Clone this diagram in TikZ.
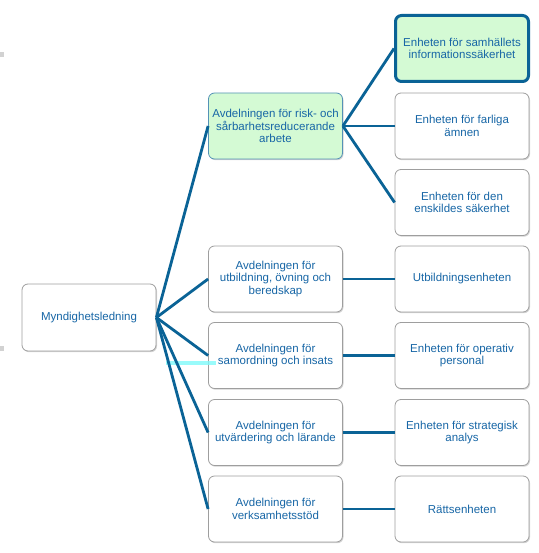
\documentclass[tikz,border=0pt]{standalone}
\usepackage{fontspec}
\setmainfont{Liberation Sans}
\usetikzlibrary{shadows}
\definecolor{LineClr}{rgb}{0.04,0.39,0.59}
\definecolor{TextClr}{rgb}{0.09,0.40,0.65}
\definecolor{BoxClr}{rgb}{0.62,0.62,0.62}
\definecolor{MarkClr}{rgb}{0.83,0.98,0.83}
\definecolor{GlowClr}{rgb}{0.50,0.98,0.98}

\tikzset{
  unitbox/.style={draw=BoxClr,line width=0.8pt,fill=white,rounded corners=6pt,
    minimum width=134pt,minimum height=66pt,inner sep=2pt,align=center,
    text=TextClr,font=\fontsize{11.5}{12.5}\selectfont,
    drop shadow={opacity=0.35,shadow xshift=1pt,shadow yshift=-1.2pt}},
  greenbox/.style={unitbox,fill=MarkClr,draw=LineClr!70},
  chosenbox/.style={greenbox,draw=LineClr,line width=3pt},
  branch/.style={draw=LineClr,line width=2.8pt}
}

\begin{document}
\begin{tikzpicture}[x=1pt,y=-1pt]
\useasboundingbox (0,0) rectangle (538,553);

% small marks at the left edge
\fill[gray!35] (0,52) rectangle (4,57);
\fill[gray!35] (0,346) rectangle (4,351);

\node[unitbox,minimum height=67pt] (root) at (89,317.5) {Myndighetsledning};

\node[greenbox] (a1) at (275.5,126) {Avdelningen för risk- och\\sårbarhetsreducerande\\arbete};
\node[unitbox] (a2) at (275.5,279) {Avdelningen för\\utbildning, övning och\\beredskap};
\node[unitbox] (a3) at (275.5,355.5) {Avdelningen för\\samordning och insats};
\node[unitbox] (a4) at (275.5,432.5) {Avdelningen för\\utvärdering och lärande};
\node[unitbox] (a5) at (275.5,509) {Avdelningen för\\verksamhetsstöd};

\node[chosenbox,minimum width=133pt,minimum height=66pt] (e1) at (462,48.5) {Enheten för samhällets\\informationssäkerhet};
\node[unitbox] (e2) at (462,126) {Enheten för farliga\\ämnen};
\node[unitbox] (e3) at (462,202.5) {Enheten för den\\enskildes säkerhet};
\node[unitbox] (e4) at (462,279) {Utbildningsenheten};
\node[unitbox] (e5) at (462,355.5) {Enheten för operativ\\personal};
\node[unitbox] (e6) at (462,432.5) {Enheten för strategisk\\analys};
\node[unitbox] (e7) at (462,509) {Rättsenheten};

% stray highlight, under the lines
\fill[GlowClr,opacity=0.8] (166,361) rectangle (216,365);

\foreach \n in {a1,a2,a3,a4,a5}
  \draw[branch] (root.east) -- (\n.west);
\foreach \n in {e1,e2,e3}
  \draw[branch] (a1.east) -- (\n.west);
\draw[branch] (a2.east) -- (e4.west);
\draw[branch] (a3.east) -- (e5.west);
\draw[branch] (a4.east) -- (e6.west);
\draw[branch] (a5.east) -- (e7.west);

\end{tikzpicture}
\end{document}
